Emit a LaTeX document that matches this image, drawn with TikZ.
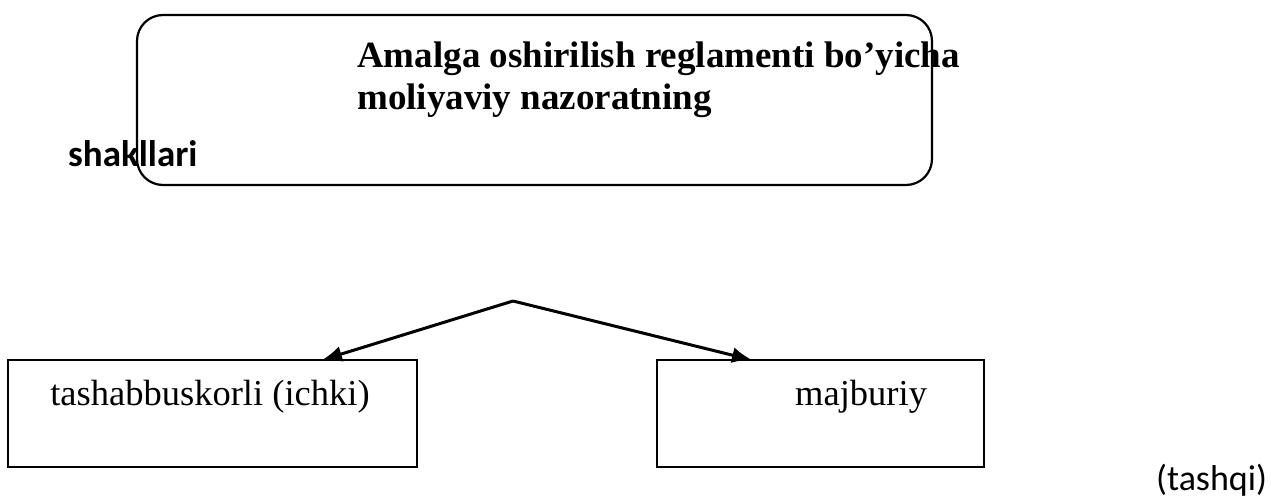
\documentclass[tikz,border=0pt]{standalone}
\usepackage{fontspec}
\setmainfont{Liberation Serif}
\newfontfamily\calibri{Carlito}
\usetikzlibrary{arrows.meta}
\begin{document}
\begin{tikzpicture}[x=1pt,y=-1pt,
  roundbox/.style={draw=black,line width=2.2pt,rounded corners=26pt,inner sep=0pt},
  plainbox/.style={draw=black,line width=2pt,inner sep=0pt},
  serifbig/.style={font=\fontsize{36.5}{42}\selectfont,inner sep=0pt},
  titletext/.style={font=\fontsize{37}{42}\selectfont\bfseries,inner sep=0pt,anchor=base west},
  sanstext/.style={inner sep=0pt,anchor=base west},
  conn/.style={line width=3pt,-{Latex[length=20pt,width=16pt]}}]
\useasboundingbox (0,0) rectangle (1271,497);
\fill[white] (0,0) rectangle (1271,497);
% title box
\node[roundbox,minimum width=795pt,minimum height=170pt] (title) at (534.5,100) {};
\node[titletext] (t1) at (357,68) {Amalga oshirilish reglamenti bo’yicha};
\node[titletext] (t2) at (357,110) {moliyaviy nazoratning};
\node[sanstext,font=\fontsize{37}{42}\calibri\bfseries] (shak) at (68,167) {shakllari};
% boxes
\node[plainbox,minimum width=409pt,minimum height=107pt] (lb) at (212.5,413.5) {};
\node[serifbig,anchor=base] (lbt) at (210,405) {tashabbuskorli (ichki)};
\node[plainbox,minimum width=327pt,minimum height=107pt] (rb) at (820.5,413.5) {};
\node[serifbig,anchor=base west] (rbt) at (795,405) {majburiy};
\node[sanstext,font=\fontsize{36}{42}\calibri] (tq) at (1156,490) {(tashqi)};
% connectors
\coordinate (apex) at (513,301);
\coordinate (lt) at (322,360);
\coordinate (rt) at (752,360);
\draw[conn] (apex) -- (lt);
\draw[conn] (apex) -- (rt);
\end{tikzpicture}
\end{document}
